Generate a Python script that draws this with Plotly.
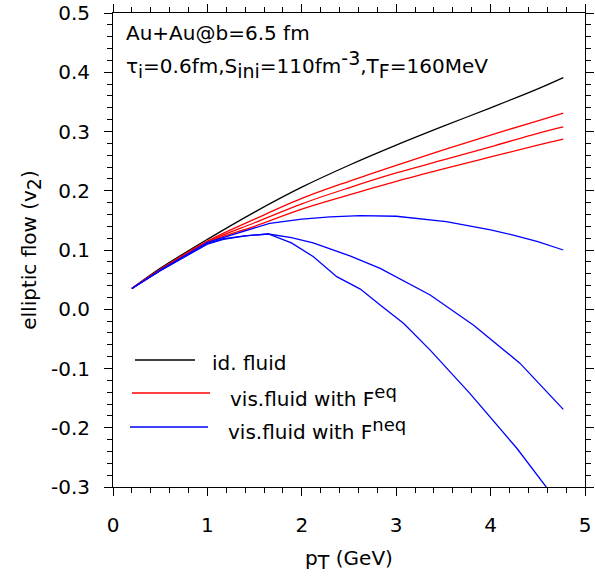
import plotly.graph_objects as go

# ---- data ----
x_ideal = [0.2, 0.5, 1.0, 1.5, 2.0, 2.5, 3.0, 3.5, 4.0, 4.5, 4.77]
v2_ideal = [0.035, 0.069, 0.118, 0.164, 0.206, 0.243, 0.277, 0.309, 0.340, 0.372, 0.391]

x_eq = [0.2, 0.5, 1.0, 1.5, 2.0, 2.5, 3.0, 3.5, 4.0, 4.5, 4.77]
v2_eq1 = [0.035, 0.067, 0.115, 0.152, 0.187, 0.216, 0.243, 0.269, 0.294, 0.318, 0.331]
v2_eq2 = [0.035, 0.067, 0.114, 0.146, 0.178, 0.205, 0.230, 0.252, 0.274, 0.297, 0.308]
v2_eq3 = [0.035, 0.067, 0.113, 0.140, 0.169, 0.193, 0.216, 0.237, 0.257, 0.277, 0.287]

x_neq1 = [0.2, 0.5, 1.0, 1.38, 1.66, 2.0, 2.3, 2.62, 3.0, 3.53, 4.0, 4.24, 4.5, 4.77]
v2_neq1 = [0.035, 0.066, 0.113, 0.132, 0.145, 0.152, 0.156, 0.158, 0.157, 0.148, 0.134, 0.125, 0.114, 0.100]

x_neq2 = [0.2, 0.5, 1.0, 1.17, 1.4, 1.645, 1.89, 2.12, 2.51, 2.83, 3.36, 3.82, 4.31, 4.77]
v2_neq2 = [0.035, 0.065, 0.111, 0.119, 0.124, 0.127, 0.121, 0.112, 0.090, 0.069, 0.024, -0.027, -0.091, -0.169]

x_neq3 = [0.2, 0.5, 1.0, 1.17, 1.4, 1.645, 1.89, 2.12, 2.37, 2.62, 2.83, 3.08, 3.36, 3.78, 4.28, 4.59, 4.77]
v2_neq3 = [0.035, 0.065, 0.110, 0.118, 0.124, 0.127, 0.112, 0.089, 0.055, 0.034, 0.007, -0.024, -0.069, -0.142, -0.235, -0.300, -0.338]

x_ticks = [0, 1, 2, 3, 4, 5]
x_ticktext = ["0", "1", "2", "3", "4", "5"]
y_ticks = [-0.3, -0.2, -0.1, 0.0, 0.1, 0.2, 0.3, 0.4, 0.5]
y_ticktext = ["-0.3", "-0.2", "-0.1", "0.0", "0.1", "0.2", "0.3", "0.4", "0.5"]

FONT = "DejaVu Sans, Liberation Sans, Arial, sans-serif"
FS = 20


def sub(t, size=19):
    return "<sub><span style='font-size:%dpx'>%s</span></sub>" % (size, t)


def sup(t, size=19):
    return "<sup><span style='font-size:%dpx'>%s</span></sup>" % (size, t)


fig = go.Figure()
lw = 1.3
fig.add_trace(go.Scatter(x=x_ideal, y=v2_ideal, mode="lines", line=dict(color="black", width=lw), line_shape="spline"))
for v in (v2_eq1, v2_eq2, v2_eq3):
    fig.add_trace(go.Scatter(x=x_eq, y=v, mode="lines", line=dict(color="#ff0000", width=lw), line_shape="spline"))
fig.add_trace(go.Scatter(x=x_neq1, y=v2_neq1, mode="lines", line=dict(color="#0000ff", width=lw)))
fig.add_trace(go.Scatter(x=x_neq2, y=v2_neq2, mode="lines", line=dict(color="#0000ff", width=lw)))
fig.add_trace(go.Scatter(x=x_neq3, y=v2_neq3, mode="lines", line=dict(color="#0000ff", width=lw)))

W, H = 595, 581
ml, mr, mt, mb = 113, 10, 13, 94
pw, ph = W - ml - mr, H - mt - mb


def px2paper(x, y):
    return (x - ml) / pw, 1 - (y - mt) / ph


# legend (drawn manually)
legend_items = [
    ("black", 135, 195, 360, 210, 363, "id. fluid"),
    ("#ff0000", 132, 210, 393, 228, 396, "vis.fluid with F" + sup("eq", 18)),
    ("#0000ff", 130, 208, 427, 226, 429, "vis.fluid with F" + sup("neq", 18)),
]
shapes = []
annotations = []
for col, x0, x1, yl, xt, yt, txt in legend_items:
    a0, b0 = px2paper(x0, yl)
    a1, _ = px2paper(x1, yl)
    shapes.append(dict(type="line", xref="paper", yref="paper", x0=a0, x1=a1, y0=b0, y1=b0,
                       line=dict(color=col, width=1.3)))
    ax, ay = px2paper(xt, yt)
    annotations.append(dict(xref="paper", yref="paper", x=ax, y=ay, xanchor="left", yanchor="middle",
                            text=txt, showarrow=False, font=dict(family=FONT, size=FS, color="black")))

ax, ay = px2paper(124, 33)
annotations.append(dict(xref="paper", yref="paper", x=ax, y=ay, xanchor="left", yanchor="middle",
                        text="Au+Au@b=6.5 fm", showarrow=False, font=dict(family=FONT, size=FS, color="black")))
ax, ay = px2paper(124, 64)
annotations.append(dict(xref="paper", yref="paper", x=ax, y=ay, xanchor="left", yanchor="middle",
                        text="τ" + sub("i", 18) + "=0.6fm,S" + sub("ini", 19) + "=110fm" + sup("-3", 19)
                             + ",T" + sub("F", 19) + "=160MeV",
                        showarrow=False, font=dict(family=FONT, size=FS, color="black")))

axis_common = dict(
    showgrid=False, zeroline=False, showline=True, linecolor="black", linewidth=1,
    mirror="allticks", ticks="outside", ticklen=8, tickwidth=1, tickcolor="black",
    tickfont=dict(family=FONT, size=FS, color="black"), automargin=False,
)

fig.update_layout(
    width=W, height=H,
    margin=dict(l=ml, r=mr, t=mt, b=mb),
    paper_bgcolor="white", plot_bgcolor="white",
    showlegend=False,
    shapes=shapes, annotations=annotations,
    xaxis=dict(range=[0, 5], tickvals=x_ticks, ticktext=x_ticktext,
               minor=dict(dtick=0.2, ticklen=5, ticks="outside", tickcolor="black"),
               ticklabelstandoff=12,
               title=dict(text="p" + sub("T", 19) + " (GeV)", font=dict(family=FONT, size=FS, color="black"), standoff=14),
               **axis_common),
    yaxis=dict(range=[-0.3, 0.5], tickvals=y_ticks, ticktext=y_ticktext,
               minor=dict(dtick=0.02, ticklen=5, ticks="outside", tickcolor="black"),
               ticklabelstandoff=10,
               title=dict(text="elliptic flow (v" + sub("2", 19) + ")", font=dict(family=FONT, size=FS, color="black"), standoff=8),
               **axis_common),
)

fig.write_html("out.html")
